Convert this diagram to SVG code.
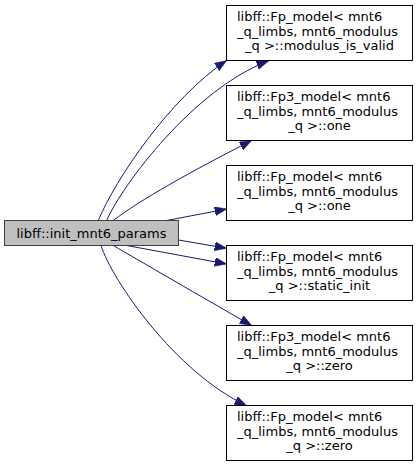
<svg xmlns="http://www.w3.org/2000/svg" width="417" height="467" viewBox="0 0 417 467">
<style>
.box{fill:#ffffff;stroke:#000000;stroke-width:1}
.main{fill:#bfbfbf;stroke:#404040;stroke-width:1}
text{font-family:"DejaVu Sans","Noto Sans",sans-serif;font-size:13px;fill:#000000}
.edge{fill:none;stroke:#191970;stroke-width:1}
</style>
<defs>
<marker id="ah" markerUnits="userSpaceOnUse" markerWidth="13" markerHeight="10" refX="12" refY="4.5" orient="auto">
<path d="M0,0 L12,4.5 L0,9 z" fill="#191970" stroke="#191970" stroke-width="0.5"/>
</marker>
</defs>
<rect width="417" height="467" fill="#ffffff"/>
<g id="connectors">
<path class="edge" marker-end="url(#ah)" d="M98.3,220.5 C115,180 170,98 226.7,60.5"/>
<path class="edge" marker-end="url(#ah)" d="M106.7,220.5 C122,185 195,88 268.5,61"/>
<path class="edge" marker-end="url(#ah)" d="M113.3,220.5 C140,200 190,172 251.7,140.5"/>
<path class="edge" marker-end="url(#ah)" d="M166.7,220.5 L226.7,209"/>
<path class="edge" marker-end="url(#ah)" d="M178.5,240 L226.7,248.3"/>
<path class="edge" marker-end="url(#ah)" d="M126.7,245.5 L226.7,264"/>
<path class="edge" marker-end="url(#ah)" d="M113.3,245.5 C140,261 200,296 251.7,325.5"/>
<path class="edge" marker-end="url(#ah)" d="M101,245.5 C112,280 175,372 246.7,405.7"/>
</g>
<g id="node_main">
<rect class="main" x="4.5" y="220.5" width="174" height="25"/>
<text x="91.5" y="237.5" text-anchor="middle">libff::init_mnt6_params</text>
</g>
<g id="node_modulus_is_valid">
<rect class="box" x="226.5" y="5.5" width="186" height="55"/>
<text x="237" y="21">libff::Fp_model&lt; mnt6</text>
<text x="237" y="35.7">_q_limbs, mnt6_modulus</text>
<text x="319.5" y="50.3" text-anchor="middle">_q &gt;::modulus_is_valid</text>
</g>
<g id="node_fp3_one">
<rect class="box" x="226.5" y="85.5" width="186" height="55"/>
<text x="237" y="101">libff::Fp3_model&lt; mnt6</text>
<text x="237" y="115.7">_q_limbs, mnt6_modulus</text>
<text x="319.5" y="130.3" text-anchor="middle">_q &gt;::one</text>
</g>
<g id="node_fp_one">
<rect class="box" x="226.5" y="165.5" width="186" height="55"/>
<text x="237" y="181">libff::Fp_model&lt; mnt6</text>
<text x="237" y="195.7">_q_limbs, mnt6_modulus</text>
<text x="319.5" y="210.3" text-anchor="middle">_q &gt;::one</text>
</g>
<g id="node_static_init">
<rect class="box" x="226.5" y="245.5" width="186" height="55"/>
<text x="237" y="261">libff::Fp_model&lt; mnt6</text>
<text x="237" y="275.7">_q_limbs, mnt6_modulus</text>
<text x="319.5" y="290.3" text-anchor="middle">_q &gt;::static_init</text>
</g>
<g id="node_fp3_zero">
<rect class="box" x="226.5" y="325.5" width="186" height="55"/>
<text x="237" y="341">libff::Fp3_model&lt; mnt6</text>
<text x="237" y="355.7">_q_limbs, mnt6_modulus</text>
<text x="319.5" y="370.3" text-anchor="middle">_q &gt;::zero</text>
</g>
<g id="node_fp_zero">
<rect class="box" x="226.5" y="405.5" width="186" height="55"/>
<text x="237" y="421">libff::Fp_model&lt; mnt6</text>
<text x="237" y="435.7">_q_limbs, mnt6_modulus</text>
<text x="319.5" y="450.3" text-anchor="middle">_q &gt;::zero</text>
</g>
</svg>
